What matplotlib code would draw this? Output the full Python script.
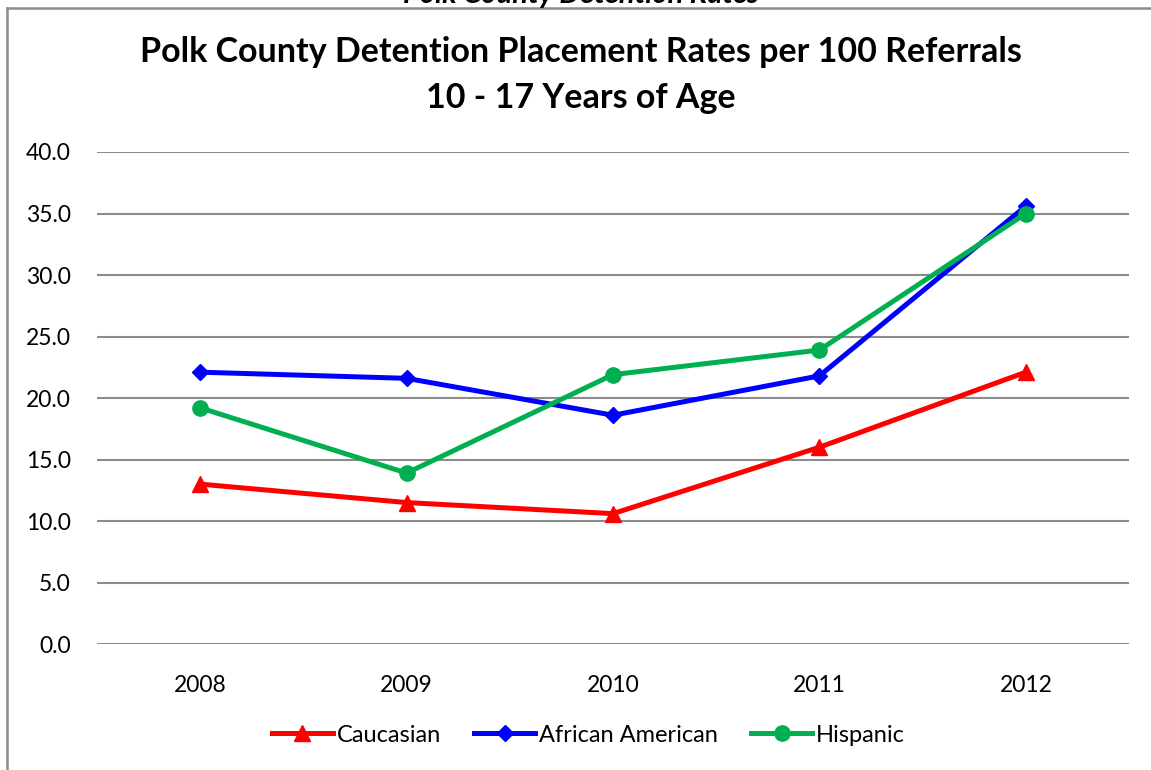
import matplotlib.pyplot as plt
from matplotlib.lines import Line2D

# Données
years = ["2008", "2009", "2010", "2011", "2012"]
caucasian = [13.0, 11.5, 10.6, 16.0, 22.1]
african_american = [22.1, 21.6, 18.6, 21.8, 35.6]
hispanic = [19.2, 13.9, 21.9, 23.9, 35.0]
y_ticks = [0, 5, 10, 15, 20, 25, 30, 35, 40]

plt.rcParams["font.family"] = ["Lato", "DejaVu Sans"]

fig = plt.figure(figsize=(11.51, 7.70), dpi=100)
ax = fig.add_axes([0.0843, 0.1636, 0.8966, 0.639])

x = range(len(years))
ax.plot(x, caucasian, color="#FF0000", lw=3.6, marker="^", ms=11, label="Caucasian")
ax.plot(x, african_american, color="#0000FF", lw=3.6, marker="D", ms=8, label="African American")
ax.plot(x, hispanic, color="#00B050", lw=3.6, marker="o", ms=11, label="Hispanic")

ax.set_xlim(-0.5, len(years) - 0.5)
ax.set_ylim(0, 40)
ax.set_xticks(list(x))
ax.set_xticklabels(years)
ax.set_yticks(y_ticks)
ax.set_yticklabels([f"{v:.1f}" for v in y_ticks])
ax.tick_params(axis="both", length=0, labelsize=16.5)
ax.tick_params(axis="x", pad=22)
ax.tick_params(axis="y", pad=19)
ax.grid(axis="y", color="#8C8C8C", lw=1.5)
ax.set_axisbelow(True)
for s in ax.spines.values():
    s.set_visible(False)

fig.text(0.505, 0.9325, "Polk County Detention Placement Rates per 100 Referrals",
         ha="center", va="center", fontsize=24.5, fontweight="bold")
fig.text(0.505, 0.8725, "10 - 17 Years of Age",
         ha="center", va="center", fontsize=24.5, fontweight="bold")

# Titre coupé en haut de l'image
fig.text(0.505, 1 - 3 / 770, "Polk County Detention Rates", ha="center", va="baseline",
         fontsize=21, fontweight="bold", fontstyle="italic")

# Cadre gris (gauche et haut)
fig.add_artist(Line2D([7 / 1151, 7 / 1151], [0, 1 - 8 / 770], color="#8C8C8C", lw=1.8,
                      transform=fig.transFigure))
fig.add_artist(Line2D([7 / 1151, 1], [1 - 8 / 770, 1 - 8 / 770], color="#8C8C8C", lw=1.8,
                      transform=fig.transFigure))

ax.legend(loc="center", bbox_to_anchor=(0.476, -0.185), ncol=3, frameon=False,
          fontsize=17, handlelength=2.6, handletextpad=0.15, columnspacing=1.4)

fig.savefig("out.png", dpi=100)
